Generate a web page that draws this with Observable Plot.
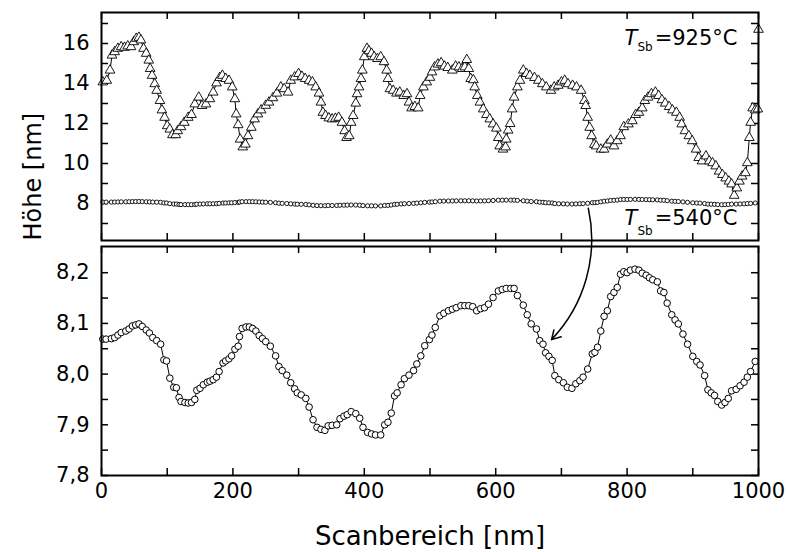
<!DOCTYPE html>
<html>
<head>
<meta charset="utf-8">
<script src="https://cdn.jsdelivr.net/npm/d3@7"></script>
<script src="https://cdn.jsdelivr.net/npm/@observablehq/plot@0.6"></script>
<style>
  html, body { margin: 0; padding: 0; background: white; }
  #wrap { position: relative; width: 786px; height: 552px; background: white; }
  #wrap svg { position: absolute; left: 0; overflow: visible; background: transparent; }
</style>
</head>
<body>
<div id="wrap"></div>
<script>
// ---- data ----
// T_Sb = 540 °C series (circles): scan position [nm] and height [nm]
const x540 = [2,7,15,20,25,30,37,42,47,52,57,62,68,73,78,84,90,95,99,104,110,114,118,121,127,132,137,142,145,150,155,161,165,170,175,179,185,189,194,198,203,208,210,214,220,225,230,235,240,245,250,257,265,270,275,282,288,294,298,304,311,316,322,328,334,340,345,351,358,363,369,374,380,387,393,398,405,411,417,425,431,436,441,446,450,456,461,468,475,480,486,492,499,503,508,515,521,528,534,540,547,553,559,565,571,577,583,589,596,604,610,616,623,628,633,642,648,654,662,667,672,676,681,686,690,696,703,709,716,722,728,733,740,747,751,755,760,765,770,775,780,785,790,795,800,805,812,818,823,829,834,839,846,851,856,861,868,873,878,885,892,900,906,911,918,923,928,933,938,944,949,954,959,966,972,978,983,988,995];
const h540 = [8.069,8.069,8.070,8.072,8.077,8.082,8.085,8.089,8.095,8.097,8.099,8.094,8.087,8.081,8.072,8.066,8.059,8.028,8.026,7.992,7.974,7.973,7.954,7.946,7.944,7.943,7.944,7.950,7.968,7.972,7.979,7.984,7.986,7.989,7.994,8.005,8.022,8.026,8.030,8.036,8.049,8.055,8.074,8.090,8.093,8.093,8.090,8.085,8.076,8.070,8.064,8.055,8.036,8.015,8.007,7.998,7.983,7.971,7.963,7.959,7.952,7.935,7.910,7.895,7.891,7.889,7.898,7.899,7.900,7.912,7.917,7.920,7.926,7.922,7.913,7.895,7.885,7.882,7.880,7.880,7.900,7.905,7.923,7.957,7.963,7.979,7.991,7.998,8.007,8.020,8.036,8.056,8.068,8.077,8.092,8.115,8.120,8.125,8.128,8.131,8.135,8.135,8.135,8.133,8.125,8.129,8.131,8.138,8.151,8.164,8.167,8.169,8.169,8.169,8.155,8.136,8.117,8.099,8.089,8.066,8.059,8.042,8.035,8.027,7.997,7.989,7.983,7.974,7.972,7.981,7.987,7.994,8.010,8.040,8.043,8.053,8.085,8.114,8.125,8.153,8.161,8.171,8.197,8.202,8.200,8.205,8.207,8.205,8.199,8.195,8.190,8.186,8.182,8.164,8.161,8.140,8.117,8.107,8.099,8.079,8.059,8.035,8.025,8.018,7.997,7.969,7.963,7.958,7.946,7.939,7.944,7.952,7.967,7.970,7.977,7.984,7.994,8.005,8.025];

// T_Sb = 925 °C series (triangles)
const x925 = [2,8,13,16,20,25,30,35,40,45,49,53,57,60,64,68,72,74,77,81,84,89,92,96,100,104,108,113,116,121,126,132,137,142,148,153,159,165,170,175,180,184,189,194,199,203,205,208,211,215,219,223,228,233,238,243,250,255,261,267,273,278,284,288,294,300,305,310,316,321,326,331,334,337,341,346,351,356,361,366,370,373,377,380,383,387,389,392,395,397,400,404,407,411,415,420,425,430,434,436,439,444,449,454,460,465,468,472,477,482,485,490,495,500,503,507,512,517,522,527,534,539,544,549,553,556,559,562,566,568,572,576,581,586,591,596,601,604,606,611,615,616,619,622,625,628,633,637,642,647,652,659,665,671,677,684,689,695,700,705,710,717,723,730,735,737,740,743,746,750,753,760,765,770,775,780,785,790,795,802,808,813,818,823,827,832,837,843,848,853,858,864,869,875,880,883,888,894,899,905,909,914,920,925,930,935,940,945,950,955,959,963,967,971,975,980,983,986,988,991,995,999,1000];
const h925 = [14.07,14.15,14.66,15.41,15.58,15.75,15.83,15.80,15.87,15.83,16.08,16.25,16.30,16.17,15.75,15.50,15.16,14.74,14.40,13.98,13.65,13.14,12.67,12.30,11.88,11.71,11.43,11.43,11.63,11.83,12.05,12.30,12.44,12.97,13.31,12.89,12.97,13.23,13.56,14.02,14.29,14.40,14.24,14.15,13.82,13.23,12.47,11.93,11.21,10.82,10.96,11.38,11.80,12.22,12.47,12.67,12.90,13.06,13.28,13.51,13.82,13.73,13.56,14.15,14.32,14.49,14.35,14.24,14.15,14.07,13.82,13.51,13.06,12.55,12.39,12.27,12.22,12.25,12.30,12.05,11.63,11.29,11.38,12.05,12.39,13.01,13.48,13.82,14.24,14.66,15.33,15.75,15.63,15.50,15.33,15.24,15.33,15.08,14.66,14.24,13.73,13.65,13.51,13.56,13.39,13.48,13.06,12.77,12.84,12.77,13.39,13.82,14.07,14.30,14.57,14.82,14.96,15.03,14.86,14.79,14.66,14.86,14.82,14.74,14.82,15.19,14.74,14.24,14.18,13.82,13.39,13.06,12.72,12.44,12.22,11.97,11.76,11.29,10.87,10.71,10.82,11.21,11.66,11.99,12.72,13.31,13.82,14.15,14.66,14.49,14.40,14.29,14.15,13.98,13.82,13.65,13.82,13.90,14.07,14.15,13.98,13.90,13.82,13.65,13.14,12.89,12.30,11.80,11.38,10.95,10.87,10.71,10.71,10.96,11.16,10.87,11.13,11.38,11.83,11.97,12.13,12.44,12.55,12.77,13.14,13.31,13.48,13.56,13.39,13.18,13.01,12.84,12.67,12.55,12.30,11.97,11.63,11.38,11.13,10.71,10.29,10.12,10.37,10.12,10.03,9.87,9.61,9.44,9.27,9.11,8.97,8.40,8.77,9.11,9.36,9.53,10.03,11.29,12.05,12.77,12.67,12.72,16.70];

// axis ticks
const xMajor = [0, 200, 400, 600, 800, 1000];
const xTicks = [0, 100, 200, 300, 400, 500, 600, 700, 800, 900, 1000];
const topMajor = [8, 10, 12, 14, 16];
const topTicks = [7, 8, 9, 10, 11, 12, 13, 14, 15, 16, 17];
const botMajor = [7.8, 7.9, 8.0, 8.1, 8.2];
const botTicks = [7.8, 7.85, 7.9, 7.95, 8.0, 8.05, 8.1, 8.15, 8.2];

// annotations
const labelTop = ["T", "Sb", "=925°C"];
const labelBot = ["T", "Sb", "=540°C"];
const arrowPts = [{x1: 741, y1: 8.327, x2: 685, y2: 8.068}];
const xTitle = "Scanbereich [nm]";
const yTitle = "Höhe [nm]";

// ---- build ----
const s540 = x540.map((x, i) => ({x, h: h540[i]}));
const s925 = x925.map((x, i) => ({x, h: h925[i]}));

const W = 786, ML = 101, MR = 28;
const innerW = W - ML - MR;
const font = {fontFamily: "DejaVu Sans", fontSize: "21px", color: "black", background: "transparent", overflow: "visible"};

// top panel
const topH = 241, topMT = 12, topMB = 1;
const topInnerH = topH - topMT - topMB;
const topChart = Plot.plot({
  width: W, height: topH, marginTop: topMT, marginBottom: topMB, marginLeft: ML, marginRight: MR,
  style: font,
  x: {domain: [0, 1000], axis: null},
  y: {domain: [6.15, 17.55]},
  marks: [
    Plot.axisY({ticks: topMajor, tickSize: 0, tickPadding: 12, label: null, tickFormat: d => String(d)}),
    Plot.tickY(topTicks, {y: d => d, insetRight: innerW - 7, strokeWidth: 1.5}),
    Plot.tickY(topTicks, {y: d => d, insetLeft: innerW - 7, strokeWidth: 1.5}),
    Plot.tickX(xTicks, {x: d => d, insetBottom: topInnerH - 7, strokeWidth: 1.5}),
    Plot.tickX(xTicks, {x: d => d, insetTop: topInnerH - 7, strokeWidth: 1.5}),
    Plot.line(s540, {x: "x", y: "h", stroke: "black", strokeWidth: 1}),
    Plot.dot(s540, {x: "x", y: "h", r: 2.1, fill: "white", stroke: "black", strokeWidth: 0.9}),
    Plot.line(s925, {x: "x", y: "h", stroke: "black", strokeWidth: 1}),
    Plot.dot(s925, {x: "x", y: "h", symbol: "triangle", r: 3.6, fill: "white", stroke: "black", strokeWidth: 0.9}),
    Plot.frame({stroke: "black", strokeWidth: 2}),
    // T_Sb = 925°C
    Plot.text([labelTop[0]], {frameAnchor: "top-right", textAnchor: "start", dx: -134, dy: 18, fontStyle: "italic", fontSize: 21}),
    Plot.text([labelTop[1]], {frameAnchor: "top-right", textAnchor: "start", dx: -121, dy: 30, fontSize: 12}),
    Plot.text([labelTop[2]], {frameAnchor: "top-right", textAnchor: "end", dx: -21, dy: 18, fontSize: 21}),
    // T_Sb = 540°C
    Plot.text([labelBot[0]], {frameAnchor: "bottom-right", textAnchor: "start", dx: -134, dy: -16, fontStyle: "italic", fontSize: 21}),
    Plot.text([labelBot[1]], {frameAnchor: "bottom-right", textAnchor: "start", dx: -121, dy: -6, fontSize: 12}),
    Plot.text([labelBot[2]], {frameAnchor: "bottom-right", textAnchor: "end", dx: -21, dy: -16, fontSize: 21})
  ]
});

// bottom panel
const botTop = 241, botH = 552 - botTop, botMT = 5, botMB = 77;
const botInnerH = botH - botMT - botMB;
const bottomChart = Plot.plot({
  width: W, height: botH, marginTop: botMT, marginBottom: botMB, marginLeft: ML, marginRight: MR,
  style: font,
  x: {domain: [0, 1000]},
  y: {domain: [7.8, 8.2517]},
  marks: [
    Plot.axisY({ticks: botMajor, tickSize: 0, tickPadding: 12, label: null, tickFormat: d => d.toFixed(1).replace(".", ",")}),
    Plot.axisX({ticks: xMajor, tickSize: 0, tickPadding: 8, label: null, tickFormat: d => String(d)}),
    Plot.tickY(botTicks, {y: d => d, insetRight: innerW - 7, strokeWidth: 1.5}),
    Plot.tickY(botTicks, {y: d => d, insetLeft: innerW - 7, strokeWidth: 1.5}),
    Plot.tickX(xTicks, {x: d => d, insetBottom: botInnerH - 7, strokeWidth: 1.5}),
    Plot.tickX(xTicks, {x: d => d, insetTop: botInnerH - 7, strokeWidth: 1.5}),
    Plot.line(s540, {x: "x", y: "h", stroke: "black", strokeWidth: 1}),
    Plot.dot(s540, {x: "x", y: "h", r: 3.3, fill: "white", stroke: "black", strokeWidth: 1}),
    Plot.frame({stroke: "black", strokeWidth: 2}),
    Plot.arrow(arrowPts, {x1: "x1", y1: "y1", x2: "x2", y2: "y2", bend: 28, headLength: 10, stroke: "black", strokeWidth: 1.5}),
    Plot.text([xTitle], {frameAnchor: "bottom", dy: 69, fontSize: 26}),
    Plot.text([yTitle], {frameAnchor: "top-left", dx: -78, dy: -6, rotate: -90, fontSize: 24})
  ]
});

const wrap = document.getElementById("wrap");
topChart.style.top = "0px";
bottomChart.style.top = botTop + "px";
wrap.appendChild(topChart);
wrap.appendChild(bottomChart);
</script>
</body>
</html>
